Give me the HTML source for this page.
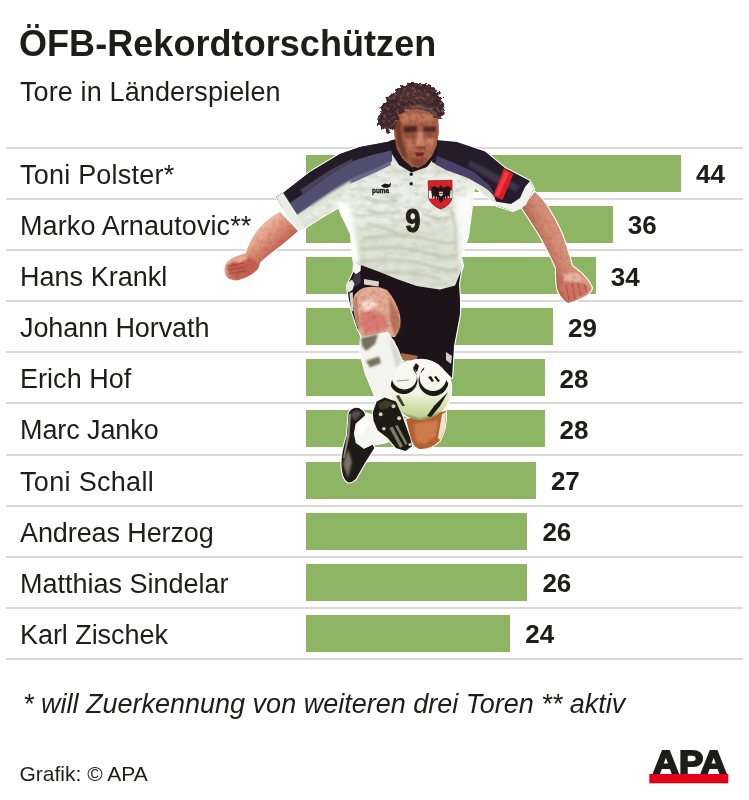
<!DOCTYPE html>
<html lang="de">
<head>
<meta charset="utf-8">
<title>ÖFB-Rekordtorschützen</title>
<style>
html,body{margin:0;padding:0;background:#fff;}
body{width:749px;height:800px;position:relative;overflow:hidden;font-family:"Liberation Sans",Arial,sans-serif;color:#1d1d1b;}
.title{position:absolute;left:19px;top:18.5px;font-size:36px;font-weight:bold;line-height:50px;white-space:nowrap;letter-spacing:0.06px;}
.sub{position:absolute;left:20px;top:71.6px;font-size:27px;line-height:40px;white-space:nowrap;letter-spacing:0.12px;}
.line{position:absolute;left:6px;width:737px;height:2px;background:#d9d9d9;}
.row{position:absolute;left:0;width:749px;height:51px;}
.name{position:absolute;left:20px;top:9px;font-size:27px;line-height:36px;white-space:nowrap;letter-spacing:0.12px;}
.bar{position:absolute;left:305.5px;top:7px;height:37px;background:#8db564;}
.val{position:absolute;top:8.5px;font-size:26px;font-weight:bold;line-height:36px;white-space:nowrap;}
.note{position:absolute;left:23px;top:685.5px;font-size:27px;font-style:italic;line-height:36px;white-space:nowrap;}
.credit{position:absolute;left:19.5px;top:760.8px;font-size:21px;line-height:26px;white-space:nowrap;}
#player{position:absolute;left:0;top:0;width:749px;height:800px;filter:blur(0.35px);}
#logo{position:absolute;left:640px;top:740px;width:100px;height:50px;}
</style>
</head>
<body>
<div class="title">ÖFB-Rekordtorschützen</div>
<div class="sub">Tore in Länderspielen</div>

<!--ROWS-->
<div class="line" style="top:146.80px"></div>
<div class="line" style="top:197.93px"></div>
<div class="line" style="top:249.05px"></div>
<div class="line" style="top:300.18px"></div>
<div class="line" style="top:351.30px"></div>
<div class="line" style="top:402.43px"></div>
<div class="line" style="top:453.55px"></div>
<div class="line" style="top:504.68px"></div>
<div class="line" style="top:555.80px"></div>
<div class="line" style="top:606.92px"></div>
<div class="line" style="top:658.05px"></div>
<div class="row" style="top:147.80px"><div class="name" style="letter-spacing:0.22px">Toni Polster*</div><div class="bar" style="width:375.5px"></div><div class="val" style="left:696.0px">44</div></div>
<div class="row" style="top:198.93px"><div class="name" style="letter-spacing:0.1px">Marko Arnautovic**</div><div class="bar" style="width:307.2px"></div><div class="val" style="left:627.7px">36</div></div>
<div class="row" style="top:250.05px"><div class="name" style="letter-spacing:0.02px">Hans Krankl</div><div class="bar" style="width:290.2px"></div><div class="val" style="left:610.7px">34</div></div>
<div class="row" style="top:301.18px"><div class="name" style="letter-spacing:-0.09px">Johann Horvath</div><div class="bar" style="width:247.5px"></div><div class="val" style="left:568.0px">29</div></div>
<div class="row" style="top:352.30px"><div class="name" style="letter-spacing:0.04px">Erich Hof</div><div class="bar" style="width:239.0px"></div><div class="val" style="left:559.5px">28</div></div>
<div class="row" style="top:403.43px"><div class="name" style="letter-spacing:-0.1px">Marc Janko</div><div class="bar" style="width:239.0px"></div><div class="val" style="left:559.5px">28</div></div>
<div class="row" style="top:454.55px"><div class="name" style="letter-spacing:0.32px">Toni Schall</div><div class="bar" style="width:230.4px"></div><div class="val" style="left:550.9px">27</div></div>
<div class="row" style="top:505.68px"><div class="name" style="letter-spacing:-0.1px">Andreas Herzog</div><div class="bar" style="width:221.9px"></div><div class="val" style="left:542.4px">26</div></div>
<div class="row" style="top:556.80px"><div class="name" style="letter-spacing:0.0px">Matthias Sindelar</div><div class="bar" style="width:221.9px"></div><div class="val" style="left:542.4px">26</div></div>
<div class="row" style="top:607.92px"><div class="name" style="letter-spacing:-0.06px">Karl Zischek</div><div class="bar" style="width:204.8px"></div><div class="val" style="left:525.3px">24</div></div>
<!--/ROWS-->

<div class="note">* will Zuerkennung von weiteren drei Toren ** aktiv</div>
<div class="credit">Grafik: © APA</div>

<!--PLAYER-->
<svg id="player" viewBox="0 0 749 800">
<defs>
<filter id="b05" x="-10%" y="-10%" width="120%" height="120%"><feGaussianBlur stdDeviation="0.6"/></filter>
<filter id="b1" x="-20%" y="-20%" width="140%" height="140%"><feGaussianBlur stdDeviation="1"/></filter>
<filter id="b2" x="-30%" y="-30%" width="160%" height="160%"><feGaussianBlur stdDeviation="2.2"/></filter>
<filter id="b3" x="-30%" y="-30%" width="160%" height="160%"><feGaussianBlur stdDeviation="4"/></filter>
<filter id="curl" x="-15%" y="-15%" width="130%" height="130%" color-interpolation-filters="sRGB">
  <feTurbulence type="fractalNoise" baseFrequency="0.22" numOctaves="2" seed="7" result="n"/>
  <feDisplacementMap in="SourceGraphic" in2="n" scale="9" xChannelSelector="R" yChannelSelector="G" result="disp"/>
  <feTurbulence type="fractalNoise" baseFrequency="0.3" numOctaves="2" seed="21" result="n2"/>
  <feColorMatrix in="n2" type="matrix" values="0 0 0 0 0.50  0 0 0 0 0.36  0 0 0 0 0.31  3.0 0 0 0 -1.55" result="c"/>
  <feComposite in="c" in2="disp" operator="in" result="tex"/>
  <feMerge><feMergeNode in="disp"/><feMergeNode in="tex"/></feMerge>
</filter>
<filter id="curl0" x="-15%" y="-15%" width="130%" height="130%">
  <feTurbulence type="fractalNoise" baseFrequency="0.22" numOctaves="2" seed="7" result="n"/>
  <feDisplacementMap in="SourceGraphic" in2="n" scale="9" xChannelSelector="R" yChannelSelector="G"/>
</filter>
<filter id="rough" x="-5%" y="-5%" width="110%" height="110%">
  <feTurbulence type="fractalNoise" baseFrequency="0.12" numOctaves="2" seed="3" result="n"/>
  <feDisplacementMap in="SourceGraphic" in2="n" scale="3" xChannelSelector="R" yChannelSelector="G"/>
</filter>
<filter id="mottle" x="0" y="0" width="100%" height="100%" color-interpolation-filters="sRGB">
  <feTurbulence type="fractalNoise" baseFrequency="0.09 0.16" numOctaves="3" seed="11" result="n"/>
  <feColorMatrix in="n" type="matrix" values="0 0 0 0 0.62  0 0 0 0 0.66  0 0 0 0 0.52  1.6 0 0 0 -0.62" result="c"/>
  <feComposite in="c" in2="SourceGraphic" operator="in"/>
</filter>
<filter id="skinmottle" x="0" y="0" width="100%" height="100%" color-interpolation-filters="sRGB">
  <feTurbulence type="fractalNoise" baseFrequency="0.25" numOctaves="2" seed="5" result="n"/>
  <feColorMatrix in="n" type="matrix" values="0 0 0 0 0.55  0 0 0 0 0.18  0 0 0 0 0.12  1.8 0 0 0 -0.75" result="c"/>
  <feComposite in="c" in2="SourceGraphic" operator="in"/>
</filter>
<linearGradient id="armL" gradientUnits="userSpaceOnUse" x1="262" y1="228" x2="282" y2="250"><stop offset="0" stop-color="#efb8a2"/><stop offset="0.45" stop-color="#d98c76"/><stop offset="1" stop-color="#bd5a48"/></linearGradient>
<linearGradient id="armR" gradientUnits="userSpaceOnUse" x1="536" y1="246" x2="566" y2="232"><stop offset="0" stop-color="#b4604c"/><stop offset="0.5" stop-color="#d08a74"/><stop offset="1" stop-color="#dc9a84"/></linearGradient>
<radialGradient id="ballg" cx="0.42" cy="0.38" r="0.7"><stop offset="0" stop-color="#fdfdf8"/><stop offset="0.65" stop-color="#ecedde"/><stop offset="1" stop-color="#b4b896"/></radialGradient>
<clipPath id="ballclip"><circle cx="421" cy="389" r="30.5"/></clipPath>
<path id="shirtpath" d="M392,141 L360,147 L340,154 L310,172 L283,193 L276,197 L286,214 L300,231 L320,218 L339,207 L341,213 L351,234 L353,258 L354,262.500 L361,265 L380,272 L397,279 L417,286 L440,289.500 L455,285.500 L463,266 L461,258 L468,236 L472,205 L474,186 L493,202 L497,206 L513,211 L526,205 L534,189 L530,181 L505,168 L485,151.500 L457,142 L436,140 L414,170 Z"/>
<clipPath id="shirtclip"><use href="#shirtpath"/></clipPath>
<path id="armLpath" d="M280,212 L298,231 Q288,240 279,247 Q268,255 260,262.500 Q259.500,268 256,271 Q249,277 239,280 Q231,281.500 226,276 Q222.500,270 227,262 Q232,256.500 245.500,253.500 Q250,241 256,232 Q266,219 280,212 Z"/>
<path id="armRpath" d="M522,208 L535,192 Q542,198 547,206 Q556,220 562,234 Q568,250 572,266 Q578,270 583,275 Q590,282 592,288 Q591,294 581,298 Q574,302 568,303 Q562,300 557.500,290 Q555.500,280 556,268 Q549,252 540,236 Z"/>
<path id="thighpath" d="M352.600,302 Q353.500,292 363,288 Q377,284.500 387,290 Q396,300 400,315 Q402,328 395,337 L362,338 Q354,322 352.600,302 Z"/>
<path id="facepath" d="M393,122 L397,111 L412,107 L428,109 L438,116 L439,132 L436.500,146 L432,156 L425,164 L418,168 L410.500,165 L402,158 L396.500,148 L394.500,136 Z"/>
<path id="hairpath" d="M378,120 L381,108 L388,97 L398,88 L411,83 L425,83 L436,89 L442,98 L444,111 L441,121 L436,118 L429,112 L412,109 L402,112 L397,120 L395,130 L386,131 L380,127 Z"/>
</defs>

<!-- white cut-out halo -->
<g fill="#ffffff" stroke="#ffffff" stroke-width="2.200" stroke-linejoin="round">
<path d="M406,419 L446,411 Q446.500,430 439.500,441 Q430,450 419,449 Q412.500,447 410,435 Z"/>
<path d="M355.800,407.800 Q350,409 348.600,413.600 L347,435 Q341.500,452 341.400,464.300 Q342,479 347.800,482.300 Q352,483 355.800,479 L365.400,462.300 L374.300,447.900 L372.700,444.700 L363.800,448.700 L354.200,435 L355.800,423.800 L365.400,415.800 Q364,411 362.200,410.200 Q359,407.500 355.800,407.800 Z"/>
<path d="M355.800,423.800 L367,413.400 L372.700,415.800 L376.700,431.900 L387.900,441.500 L383,443 L371.900,444.700 L363.800,448.700 L355.800,443 L353.900,433.500 Z"/>
<use href="#armLpath"/>
<use href="#armRpath"/>
<path d="M358,262 L347,286 L349,300 L352,312 L358,330 L380,332 L394,340 L401,357 L416,359 L430,362 L446,372 L452,378 L454,346 L460,314 L460,300 L459,284 L462,264 L432,278 L400,272 Z"/>
<use href="#thighpath"/>
<path d="M361,337 L388,331.500 L398,348 L403,361 L396,372 L391,386 L396,398 L384,399 L376,398 L366,374 L360,352 Z"/>
<use href="#shirtpath"/>
<use href="#facepath"/>
<path d="M372.700,412.600 L376.700,401.400 L384.700,397.400 L395.900,401.400 L402.300,415.800 L410.300,438.300 L412,446.300 L405.500,451 L395.900,447.900 L387.900,438.300 L377.500,430.300 L373.500,420.600 Z"/>
<circle cx="420.700" cy="389.200" r="30.500"/>
</g>
<use href="#hairpath" fill="#ffffff" stroke="#ffffff" stroke-width="3" filter="url(#curl0)"/>
<!-- back leg -->
<path d="M406,419 L446,411 Q446.500,430 439.500,441 Q430,450 419,449 Q412.500,447 410,435 Z" fill="#b45f30"/>
<path d="M414,424 L438,420 L436,436 L425,444 L416,442 Z" fill="#cc7c4c" filter="url(#b1)"/>
<path d="M442,414 L446,412 L445,428 L440,440 L438,438 Z" fill="#f0e4cc" filter="url(#b05)"/>
<path d="M355.800,407.800 Q350,409 348.600,413.600 L347,435 Q341.500,452 341.400,464.300 Q342,479 347.800,482.300 Q352,483 355.800,479 L365.400,462.300 L374.300,447.900 L372.700,444.700 L363.800,448.700 L354.200,435 L355.800,423.800 L365.400,415.800 Q364,411 362.200,410.200 Q359,407.500 355.800,407.800 Z" fill="#1f1a17"/>
<path d="M355.800,423.800 L367,413.400 L372.700,415.800 L376.700,431.900 L387.900,441.500 L383,443 L371.900,444.700 L363.800,448.700 L355.800,443 L353.900,433.500 Z" fill="#f5f5f1"/>
<path d="M343,464 L348,449 L352,462 L348,478 Z" fill="#7a7064" filter="url(#b1)"/>
<path d="M349,414 L351,414 L349.500,436 L344.500,458 L343,458 L347,436 Z" fill="#8a8880" filter="url(#b05)"/>
<path d="M350,414 L357,410 L362,413 L355,421 Z" fill="#5a5048" filter="url(#b1)"/>
<path d="M357,427 L366,418 L370,424 L360,436 Z" fill="#ffffff" filter="url(#b1)"/>

<!-- left arm (viewer's left) -->
<use href="#armLpath" fill="url(#armL)"/>
<path d="M226,267 L236,259 L250,256.500 L258,264 L247,276 L233,279 Z" fill="#c45e50" filter="url(#b1)"/>
<path d="M230,261 L241,256 L250,257 L240,263 Z" fill="#eeb0a0" filter="url(#b1)"/>
<g stroke="#a04438" stroke-width="0.900" fill="none" opacity="0.85">
<path d="M229,266 L243,263"/><path d="M227,270 L245,267"/><path d="M228,274 L246,271"/>
</g>
<use href="#armLpath" filter="url(#skinmottle)" opacity="0.22"/>

<!-- right arm -->
<use href="#armRpath" fill="url(#armR)"/>
<path d="M559,288 L565,280 L582,281 L590,290 L578,298 L567,301 Z" fill="#d07464" filter="url(#b1)"/>
<path d="M563,274 L578,273 L587,283 L574,282 L564,281 Z" fill="#eab4a4" filter="url(#b1)"/>
<g stroke="#a84a40" stroke-width="0.900" fill="none" opacity="0.85">
<path d="M566,284 L569,300"/><path d="M572,283 L575,299"/><path d="M578,283 L581,296"/><path d="M584,284 L587,293"/>
</g>
<use href="#armRpath" filter="url(#skinmottle)" opacity="0.25"/>

<!-- shorts -->
<path d="M358,262 L347,286 L349,300 L352,312 L358,330 L380,332 L394,340 L401,357 L416,359 L430,362 L446,372 L452,378 L454,346 L460,314 L460,300 L459,284 L462,264 L432,278 L400,272 Z" fill="#1c1418"/>
<path d="M353,262 L361,265 L360.500,271 L356,274.500 L352.500,271 Z" fill="#f4f5f0"/>
<path d="M354,275 L360,272 L361,282 L355,287 L352,281 Z" fill="#3c3446" filter="url(#b05)"/>
<path d="M347,283.500 L352,279.500 L354.500,284 L352.500,290 L348.500,292.500 L346,288 Z" fill="#e4e6e0"/>
<path d="M349.500,293 L352.800,292 L353.200,311 L351,312 Z" fill="#cfd2cc"/>
<path d="M364,279 L379,281.500 L378.500,286.500 L364,284.500 Z" fill="#d4d8cc" filter="url(#b05)"/>
<path d="M446,352 L452,356 L451,364 L446,360 Z" fill="#d0d0d0" filter="url(#b05)"/>
<!-- back thigh glimpse -->
<path d="M401,353 L418,356 L416,361 L402,360 Z" fill="#a86848"/>
<!-- thigh -->
<use href="#thighpath" fill="#e3ae96"/>
<path d="M360,314 L372,310 L386,315 L388,329 L367,335 L360,326 Z" fill="#da7a74" filter="url(#b2)"/>
<path d="M389,296 L398,312 L400.500,326 L395,336 L390,320 Z" fill="#b87656" filter="url(#b1)"/>
<path d="M361,303 L372,299 L378,305 L366,311 Z" fill="#fbe4d8" filter="url(#b1)"/>
<path d="M353,300 L357,296 L360,330 L356,322 Z" fill="#c08870" filter="url(#b05)"/>
<use href="#thighpath" filter="url(#skinmottle)" opacity="0.3"/>
<!-- front sock -->
<path d="M361,337 L388,331.500 L398,348 L403,361 L396,372 L391,386 L396,398 L384,399 L376,398 L366,374 L360,352 Z" fill="#f4f4ef"/>
<path d="M361,338 L378,334 L375,344 L366,351 L362,346 Z" fill="#74705a" filter="url(#b1)"/>
<path d="M366,361 L379,356.500 L381,363 L370,367.500 Z" fill="#74705a" filter="url(#b1)"/>
<path d="M389,336 L398,351 L402,362 L396,368 L392,352 Z" fill="#d9dacf" filter="url(#b1)"/>

<!-- shirt -->
<use href="#shirtpath" fill="#eceee6"/>
<g clip-path="url(#shirtclip)">
  <use href="#shirtpath" filter="url(#mottle)" opacity="0.5"/>
  <path d="M352,225 L470,220 L463,292 L356,292 Z" fill="#cfd4c2" filter="url(#b3)" opacity="0.45"/>
  <g fill="none" stroke="#b4bba4" stroke-width="2.600" filter="url(#b1)" opacity="0.6" stroke-linecap="round">
    <path d="M364,238 Q400,232 430,240 T462,236"/>
    <path d="M360,250 Q398,244 428,253 T462,249"/>
    <path d="M360,262 Q400,256 430,266 T460,262"/>
    <path d="M372,274 Q410,270 440,279"/>
    <path d="M366,198 Q380,204 396,200"/>
    <path d="M368,210 Q384,216 400,211"/>
    <path d="M452,212 Q458,230 456,250"/>
    <path d="M424,214 Q440,222 454,216"/>
    <path d="M368,224 Q390,228 404,238"/>
  </g>
  <path d="M337,200 L350,205 L360,262 L349,262 Z" fill="#ffffff" filter="url(#b2)"/>
  <path d="M455,200 L474,190 L470,250 L460,270 Z" fill="#ffffff" filter="url(#b2)" opacity="0.8"/>
  <!-- left shoulder: purple band then dark band -->
  <path d="M392,138 L392,161 L388,165 L370,173 L350,181 L330,193 L296,216 L270,200 L330,150 Z" fill="#524e70"/>
  <path d="M376,168 L390,161 L391,165 L372,174 L352,183 L332,195 L312,208 L310,205 L332,190 L352,178 Z" fill="#6c6888" filter="url(#b05)"/>
  <path d="M392,136 L393,150 L372,155 L350,162 L328,176 L306,192 L287,205 L272,198 L330,150 Z" fill="#231b27"/>
  <path d="M300,190 L330,170 L352,159 L353,162 L331,174 L303,194 Z" fill="#4a4058" filter="url(#b05)"/>
  <path d="M296,216 L330,193 L350,181 L352,186 L332,198 L300,220 Z" fill="#dfe4d4" filter="url(#b1)"/>
  <!-- right shoulder -->
  <path d="M434,136 L432,162 L446,168.500 L470,176.500 L483,184.500 L494,196 L500,212 L540,200 L536,176 L480,145 Z" fill="#241c2a"/>
  <path d="M437,156 L452,162 L474,172 L490,186 L494,194 L482,186 L468,178 L446,170 L435,164 Z" fill="#4a4366" filter="url(#b05)"/>
  <path d="M470,160 L500,176 L520,186 L516,192 L494,182 L468,166 Z" fill="#3b3448" filter="url(#b1)"/>
  <!-- cuffs -->
  <path d="M275,197 L283,192.500 L305,227 L298,232 Z" fill="#e9ede2"/>
  <path d="M530,181 L535,189 L526,206 L513,212 L497,207 L492,201 L511,204 L520,198 L525,187 Z" fill="#f0f2ec"/>
  <!-- armband -->
  <path d="M504,168 L513.500,174 L502.500,200 L493,196 Z" fill="#d81c28"/>
  <path d="M505,171 L509,173 L499,196 L495,195 Z" fill="#ef3a3a" filter="url(#b05)"/>
</g>
<!-- neck + collar -->
<path d="M397,139 L434,139 L432,152 L422,165 L412,169 L402,158 Z" fill="#8e5844"/>
<path d="M389,141 L396,139 L398,150 L404,160 L412,167.500 L422,163 L430,152 L433,139 L438,140 L437,154 L427,167 L411.500,172.500 L399,165 L392,154 Z" fill="#1d171d"/>
<circle cx="411.200" cy="174.300" r="1.700" fill="#1c1c1c"/>
<circle cx="411.200" cy="183.800" r="1.700" fill="#1c1c1c"/>
<!-- crest -->
<path d="M428.100,180.800 L452,180.200 L452,198 Q451,205 440.800,209.200 Q430.500,205 428.600,198 Z" fill="#d6202c" stroke="#5a1418" stroke-width="0.600"/>
<path d="M428.700,190.800 L451.800,190.400 L451.800,198 L428.900,198.400 Z" fill="#f3eee8"/>
<path d="M440.800,185.300 L442.500,186.500 L442.300,188.500 L445,187 L448,186.200 L450.600,187.500 L450.400,192 L449.600,199 L448,195 L447,200 L445.500,196 L444.500,200.500 L443.500,197 L442.800,201 L441,203 L439.200,201 L438.500,197 L437.500,200.500 L436.500,196 L435,200 L434,195 L432.400,199 L431.400,192 L431.200,187.500 L434,186.200 L437,187 L439.500,188.500 L439.200,186.500 Z" fill="#231416"/>
<path d="M439,191.800 L442.800,191.800 L442.800,195 L440.900,196.600 L439,195 Z" fill="#e8d8d0"/>
<path d="M439,193 L442.800,193 L442.800,194.200 L439,194.200 Z" fill="#c83030"/>
<!-- 9 and puma -->
<text x="405.300" y="232.300" font-family="Liberation Sans, Arial, sans-serif" font-weight="bold" font-size="33.500" stroke="#24211d" stroke-width="1.1" textLength="15.200" lengthAdjust="spacingAndGlyphs" fill="#24211d">9</text>
<text x="372" y="192.800" font-family="Liberation Sans, Arial, sans-serif" font-weight="bold" font-size="8" textLength="17" lengthAdjust="spacingAndGlyphs" fill="#1c1a18" stroke="#1c1a18" stroke-width="0.4">puma</text>
<path d="M381,185.500 L385,183.500 L389,184.500 L391,182.500 L390.500,186.500 L387,188 L383,187.500 Z" fill="#1c1a18"/>

<!-- face -->
<use href="#facepath" fill="#a9654d"/>
<path d="M395,122 L400,116 L402,138 L408,160 L402,156 L397,142 Z" fill="#6e3a2c" filter="url(#b1)"/>
<path d="M401,114 L432,114 L434,121 L401,122 Z" fill="#bf7a5e" filter="url(#b1)"/>
<path d="M403,126.500 L417,125.500 L417,132 L404,133 Z" fill="#4a2820" filter="url(#b1)"/>
<path d="M423,126.500 L436,126.500 L436,132 L424,132 Z" fill="#4a2820" filter="url(#b1)"/>
<path d="M417.500,132 L422,132 L425,145 L416.500,146 Z" fill="#d48e72" filter="url(#b1)"/>
<path d="M426,137 L434,137 L432,148 L427,150 Z" fill="#c78266" filter="url(#b1)"/>
<path d="M405,138 L413,138 L414,150 L408,152 Z" fill="#b87258" filter="url(#b1)"/>
<path d="M415,152.500 L424.500,152.500 L423,156 L416.500,156.500 Z" fill="#6c262a" filter="url(#b05)"/>
<path d="M416,146.500 L426,146.500 L425,149 L417,149 Z" fill="#7a4030" filter="url(#b1)"/>
<path d="M404,134 L416,133 L415,138 L405,139 Z" fill="#8a4c3a" filter="url(#b1)" opacity="0.7"/>
<path d="M424,133 L436,133 L435,138 L425,138 Z" fill="#8a4c3a" filter="url(#b1)" opacity="0.7"/>
<path d="M408,158.500 L428,158.500 L422,166 L414,166 Z" fill="#82493a" filter="url(#b1)"/>
<use href="#facepath" filter="url(#skinmottle)" opacity="0.55"/>
<!-- hair -->
<g filter="url(#curl)">
<use href="#hairpath" fill="#40262a"/>
<path d="M384,112 L388,126 L382,130 L378,122 Z" fill="#40262a"/>
</g>
<path d="M396,95 L412,89 L428,93 L436,102 L426,103 L410,101 L398,105 Z" fill="#5d3e36" filter="url(#curl)" opacity="0.45"/>
<path d="M402,108 L420,104 L436,112 L438,118 L428,110 L412,108 Z" fill="#8a766a" filter="url(#b1)" opacity="0.6"/>

<!-- ball -->
<linearGradient id="ballg2" gradientUnits="userSpaceOnUse" x1="421" y1="360" x2="421" y2="420"><stop offset="0" stop-color="#fbfbf6"/><stop offset="0.55" stop-color="#f2f4e6"/><stop offset="0.75" stop-color="#d4e2b0"/><stop offset="1" stop-color="#b9cf8c"/></linearGradient>
<circle cx="420.700" cy="389.200" r="30.500" fill="url(#ballg2)"/>
<g clip-path="url(#ballclip)" fill="#1c1914">
  <path d="M389.7,377.6 L389.5,379.9 L389.7,382.3 L390.3,384.6 L391.3,386.8 L392.6,388.8 L394.3,390.5 L396.2,391.9 L398.3,393.0 L400.6,393.7 L403.0,394.0 L405.4,393.9 L407.7,393.4 L409.9,392.4 L411.9,391.2 L413.7,389.6 L415.2,387.7 L416.3,385.6 L417.1,383.3 L417.5,381.0 L417.4,378.6 L417.0,376.2 L416.1,374.0 L414.9,371.9 L413.4,370.1 L413.2,367.9 L414.6,369.5 L415.7,371.4 L416.4,373.4 L416.8,375.5 L416.9,377.7 L416.5,379.8 L415.9,381.8 L414.8,383.7 L413.5,385.4 L411.9,386.9 L410.1,388.0 L408.1,388.8 L406.0,389.3 L403.8,389.4 L401.7,389.1 L399.6,388.5 L397.7,387.5 L396.0,386.3 L394.5,384.7 L393.3,382.9 L392.4,381.0 L391.9,378.9 L391.7,376.8 L391.9,374.6 Z"/>
  <path d="M423.9,369.5 L422.2,371.2 L420.7,373.1 L419.6,375.3 L418.9,377.5 L418.5,379.9 L418.6,382.3 L419.0,384.7 L419.7,386.9 L420.8,389.1 L422.3,391.0 L424.0,392.6 L426.0,394.0 L428.2,395.0 L430.5,395.7 L432.8,396.0 L435.2,395.9 L437.6,395.4 L439.8,394.6 L441.9,393.4 L443.8,391.9 L445.4,390.1 L446.7,388.1 L447.7,385.9 L448.3,383.6 L446.2,379.9 L445.7,382.0 L444.8,384.0 L443.6,385.8 L442.2,387.3 L440.5,388.7 L438.7,389.7 L436.7,390.5 L434.6,390.9 L432.4,391.0 L430.3,390.7 L428.2,390.1 L426.3,389.2 L424.5,388.0 L423.0,386.5 L421.7,384.8 L420.7,382.9 L420.0,380.9 L419.7,378.8 L419.6,376.6 L420.0,374.5 L420.6,372.5 L421.6,370.6 L422.9,368.8 L424.4,367.3 Z"/>
  <path d="M413,368 L416,363 L419,366 L417,372 Z"/>
  <path d="M444,396 L448,392 L440,406 L431,417 L427,416 L434,406 Z"/>
  <path d="M428,377 L431,376 L434,381 L432,382 Z"/>
  <path d="M434,377 L436,376 L440,381 L438,382 Z"/>
  <path d="M396,396 L399,395 L405,406 L402,406 Z" opacity="0.8"/>
  <path d="M394,411 L420,419 L446,411 L440,421 L400,421 Z" fill="#3a3a20" opacity="0.5" filter="url(#b1)"/>
</g>
<path d="M397,381 L409,380" stroke="#777" stroke-width="0.800" fill="none"/>
<!-- front boot -->
<path d="M372.700,412.600 L376.700,401.400 L384.700,397.400 L395.900,401.400 L402.300,415.800 L410.300,438.300 L412,446.300 L405.500,451 L395.900,447.900 L387.900,438.300 L377.500,430.300 L373.500,420.600 Z" fill="#1d1a14"/>
<path d="M378,404 L385,400 L394,403 L388,408 L380,410 Z" fill="#3a3a28" filter="url(#b05)"/>
<circle cx="380.700" cy="414.200" r="2" fill="#d0d0c0"/>
<circle cx="393.500" cy="406.200" r="2" fill="#d0d0c0"/>
<circle cx="399.100" cy="418.200" r="2" fill="#d0d0c0"/>
<circle cx="383.900" cy="428.700" r="1.800" fill="#d0d0c0"/>
<circle cx="410" cy="444.500" r="1.600" fill="#d0d0c0"/>
<path d="M389.500,428 L392.500,426.500 L403,446 L400,448 Z" fill="#7c7c68"/>
<path d="M395,426 L397.500,425 L407.500,443.500 L405.500,445 Z" fill="#7c7c68"/>
</svg>
<!--/PLAYER-->

<svg id="logo" viewBox="640 740 100 50">
<text x="652.8" y="774" font-family="Liberation Sans, Arial, sans-serif" font-weight="bold" font-size="33.4" textLength="74" lengthAdjust="spacingAndGlyphs" fill="#1d1d1b" stroke="#1d1d1b" stroke-width="2" stroke-linejoin="miter">APA</text>
<rect x="649.3" y="774" width="79" height="9.3" fill="#e2001a"/>
</svg>
</body>
</html>
